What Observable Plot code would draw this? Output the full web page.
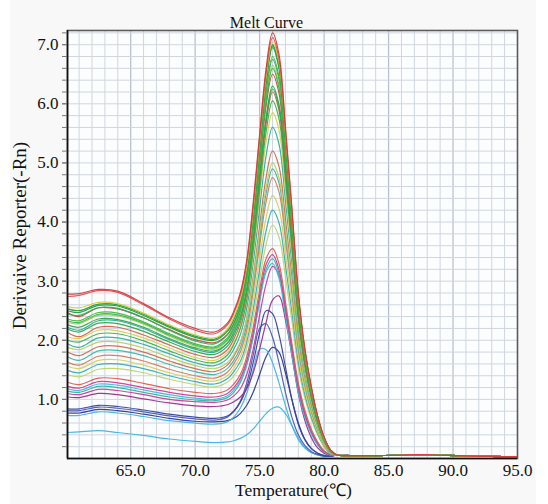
<!DOCTYPE html>
<html>
<head>
<meta charset="utf-8">
<script src="https://cdn.jsdelivr.net/npm/d3@7"></script>
<script src="https://cdn.jsdelivr.net/npm/@observablehq/plot@0.6"></script>
<style>
  html, body { margin: 0; padding: 0; background: #ffffff; }
  #chart svg { display: block; }
  #chart svg text, #chart svg g { font-family: 'Liberation Serif', 'Times New Roman', serif !important; font-variant-numeric: normal !important; }
</style>
</head>
<body>
<div id="chart"></div>
<script>
// Temperatures (°C) at which every curve was read
const temps = [60.1, 61, 62.5, 64, 66, 68, 70, 71.5, 72.5, 73, 73.5, 74, 74.5, 75, 75.5, 76, 76.5, 77, 77.5, 78, 78.5, 79, 79.5, 80, 80.5];
// Flat tail above 80.5 °C (all curves overlap there)
const tailTemps = [81, 82, 84, 86, 87.5, 89, 91, 93, 95];
const tailValues = [0.06, 0.05, 0.05, 0.055, 0.065, 0.055, 0.045, 0.035, 0.03];

// Derivative reporter values per curve
const curveValues = [
  [0.44, 0.45, 0.47, 0.44, 0.39, 0.33, 0.29, 0.27, 0.28, 0.30, 0.34, 0.40, 0.50, 0.63, 0.76, 0.85, 0.87, 0.76, 0.56, 0.35, 0.19, 0.10, 0.06, 0.04, 0.04],
  [0.77, 0.77, 0.83, 0.81, 0.75, 0.68, 0.63, 0.62, 0.64, 0.68, 0.76, 0.90, 1.12, 1.42, 1.72, 1.88, 1.80, 1.45, 1.00, 0.60, 0.33, 0.17, 0.09, 0.05, 0.04],
  [0.73, 0.73, 0.79, 0.77, 0.71, 0.64, 0.60, 0.58, 0.62, 0.70, 0.85, 1.10, 1.50, 1.85, 1.84, 1.62, 1.28, 0.90, 0.56, 0.32, 0.18, 0.10, 0.06, 0.04, 0.04],
  [0.81, 0.81, 0.87, 0.85, 0.79, 0.72, 0.67, 0.65, 0.70, 0.80, 0.97, 1.28, 1.75, 2.20, 2.28, 2.05, 1.62, 1.12, 0.70, 0.40, 0.22, 0.12, 0.07, 0.04, 0.04],
  [0.84, 0.84, 0.90, 0.88, 0.82, 0.75, 0.70, 0.68, 0.72, 0.80, 0.95, 1.20, 1.62, 2.12, 2.50, 2.45, 2.10, 1.55, 1.00, 0.58, 0.32, 0.17, 0.09, 0.05, 0.04],
  [1.04, 1.03, 1.10, 1.08, 1.01, 0.94, 0.89, 0.88, 0.91, 0.96, 1.04, 1.18, 1.45, 1.85, 2.30, 2.68, 2.75, 2.35, 1.75, 1.10, 0.65, 0.36, 0.18, 0.09, 0.05],
  [1.10, 1.08, 1.17, 1.15, 1.08, 1.00, 0.96, 0.95, 0.99, 1.06, 1.18, 1.42, 1.85, 2.42, 2.95, 3.25, 3.10, 2.55, 1.88, 1.22, 0.76, 0.45, 0.24, 0.11, 0.06],
  [1.14, 1.12, 1.22, 1.20, 1.12, 1.04, 0.99, 0.98, 1.03, 1.12, 1.28, 1.58, 2.06, 2.68, 3.20, 3.38, 3.13, 2.48, 1.80, 1.16, 0.73, 0.44, 0.24, 0.11, 0.06],
  [1.18, 1.15, 1.26, 1.24, 1.16, 1.08, 1.02, 1.00, 1.06, 1.16, 1.32, 1.60, 2.06, 2.65, 3.15, 3.30, 3.05, 2.42, 1.75, 1.12, 0.70, 0.42, 0.23, 0.11, 0.06],
  [1.22, 1.19, 1.30, 1.28, 1.20, 1.12, 1.06, 1.04, 1.10, 1.20, 1.36, 1.65, 2.13, 2.75, 3.28, 3.45, 3.20, 2.55, 1.85, 1.20, 0.76, 0.46, 0.26, 0.12, 0.06],
  [1.29, 1.25, 1.36, 1.35, 1.27, 1.18, 1.12, 1.10, 1.16, 1.26, 1.42, 1.72, 2.22, 2.85, 3.38, 3.55, 3.30, 2.65, 1.95, 1.28, 0.82, 0.50, 0.28, 0.13, 0.07],
  [1.42, 1.38, 1.51, 1.52, 1.45, 1.34, 1.25, 1.21, 1.29, 1.40, 1.57, 1.87, 2.39, 3.02, 3.62, 3.95, 3.75, 3.08, 2.33, 1.54, 1.03, 0.67, 0.40, 0.20, 0.08],
  [1.49, 1.45, 1.59, 1.60, 1.52, 1.40, 1.30, 1.26, 1.35, 1.47, 1.64, 1.97, 2.52, 3.20, 3.85, 4.20, 3.99, 3.28, 2.48, 1.64, 1.09, 0.71, 0.42, 0.21, 0.08],
  [1.56, 1.52, 1.66, 1.67, 1.58, 1.45, 1.35, 1.31, 1.40, 1.53, 1.72, 2.06, 2.66, 3.38, 4.07, 4.45, 4.23, 3.47, 2.63, 1.74, 1.16, 0.76, 0.45, 0.22, 0.09],
  [1.63, 1.58, 1.73, 1.74, 1.65, 1.51, 1.40, 1.36, 1.46, 1.60, 1.80, 2.17, 2.82, 3.60, 4.34, 4.75, 4.51, 3.71, 2.80, 1.85, 1.24, 0.81, 0.48, 0.24, 0.10],
  [1.72, 1.66, 1.82, 1.83, 1.74, 1.59, 1.47, 1.42, 1.52, 1.66, 1.87, 2.26, 2.92, 3.72, 4.48, 4.90, 4.66, 3.82, 2.89, 1.91, 1.27, 0.83, 0.49, 0.25, 0.10],
  [1.80, 1.74, 1.89, 1.90, 1.80, 1.65, 1.52, 1.47, 1.58, 1.73, 1.95, 2.37, 3.07, 3.93, 4.75, 5.20, 4.94, 4.06, 3.07, 2.03, 1.35, 0.88, 0.52, 0.26, 0.10],
  [1.88, 1.84, 1.97, 1.97, 1.87, 1.71, 1.57, 1.52, 1.62, 1.76, 1.97, 2.36, 3.02, 3.82, 4.58, 5.00, 4.75, 3.90, 2.95, 1.95, 1.30, 0.85, 0.50, 0.25, 0.10],
  [1.94, 1.88, 2.04, 2.04, 1.93, 1.77, 1.62, 1.57, 1.69, 1.85, 2.09, 2.54, 3.30, 4.23, 5.12, 5.60, 5.32, 4.37, 3.30, 2.18, 1.46, 0.95, 0.56, 0.28, 0.11],
  [2.06, 2.03, 2.17, 2.16, 2.04, 1.87, 1.71, 1.66, 1.79, 1.95, 2.20, 2.67, 3.46, 4.43, 5.35, 5.85, 5.56, 4.56, 3.45, 2.28, 1.52, 0.99, 0.59, 0.29, 0.12],
  [2.00, 1.97, 2.11, 2.11, 1.99, 1.82, 1.67, 1.62, 1.75, 1.93, 2.20, 2.68, 3.52, 4.54, 5.52, 6.05, 5.75, 4.72, 3.57, 2.36, 1.57, 1.03, 0.61, 0.30, 0.12],
  [2.13, 2.06, 2.22, 2.22, 2.09, 1.92, 1.76, 1.71, 1.84, 2.02, 2.29, 2.79, 3.64, 4.67, 5.66, 6.20, 5.89, 4.84, 3.66, 2.42, 1.61, 1.05, 0.62, 0.31, 0.12],
  [2.19, 2.14, 2.29, 2.28, 2.15, 1.97, 1.81, 1.76, 1.90, 2.08, 2.35, 2.85, 3.71, 4.76, 5.76, 6.30, 5.99, 4.91, 3.72, 2.46, 1.64, 1.07, 0.63, 0.32, 0.13],
  [2.26, 2.22, 2.36, 2.35, 2.22, 2.03, 1.87, 1.82, 1.95, 2.13, 2.40, 2.88, 3.72, 4.74, 5.72, 6.25, 5.94, 4.88, 3.69, 2.44, 1.63, 1.06, 0.63, 0.31, 0.13],
  [2.22, 2.17, 2.33, 2.33, 2.20, 2.01, 1.85, 1.80, 1.95, 2.15, 2.44, 2.99, 3.93, 5.07, 6.16, 6.75, 6.41, 5.27, 3.98, 2.63, 1.76, 1.15, 0.68, 0.34, 0.14],
  [2.30, 2.28, 2.42, 2.41, 2.27, 2.07, 1.90, 1.85, 1.99, 2.19, 2.47, 3.00, 3.91, 5.02, 6.07, 6.65, 6.32, 5.19, 3.92, 2.59, 1.73, 1.13, 0.67, 0.33, 0.13],
  [2.47, 2.40, 2.55, 2.53, 2.38, 2.18, 2.01, 1.96, 2.10, 2.28, 2.55, 3.05, 3.91, 4.96, 5.96, 6.50, 6.18, 5.07, 3.84, 2.54, 1.69, 1.11, 0.65, 0.33, 0.13],
  [2.33, 2.30, 2.44, 2.43, 2.29, 2.09, 1.92, 1.87, 2.01, 2.20, 2.48, 3.01, 3.90, 4.99, 6.03, 6.60, 6.27, 5.15, 3.89, 2.57, 1.72, 1.12, 0.66, 0.33, 0.13],
  [2.36, 2.33, 2.47, 2.46, 2.31, 2.11, 1.94, 1.89, 2.04, 2.23, 2.53, 3.07, 4.00, 5.13, 6.21, 6.80, 6.46, 5.30, 4.01, 2.65, 1.77, 1.16, 0.68, 0.34, 0.14],
  [2.44, 2.42, 2.55, 2.54, 2.38, 2.17, 1.99, 1.94, 2.09, 2.29, 2.59, 3.14, 4.09, 5.25, 6.35, 6.95, 6.60, 5.42, 4.10, 2.71, 1.81, 1.18, 0.70, 0.35, 0.14],
  [2.50, 2.47, 2.59, 2.58, 2.42, 2.22, 2.05, 2.00, 2.15, 2.35, 2.65, 3.20, 4.14, 5.29, 6.38, 6.98, 6.63, 5.44, 4.12, 2.72, 1.81, 1.19, 0.70, 0.35, 0.14],
  [2.53, 2.50, 2.61, 2.60, 2.44, 2.24, 2.07, 2.02, 2.17, 2.37, 2.67, 3.22, 4.16, 5.31, 6.40, 7.00, 6.65, 5.46, 4.13, 2.73, 1.82, 1.19, 0.70, 0.35, 0.14],
  [2.57, 2.55, 2.64, 2.62, 2.46, 2.26, 2.09, 2.04, 2.19, 2.39, 2.69, 3.24, 4.19, 5.35, 6.45, 7.05, 6.70, 5.50, 4.16, 2.75, 1.83, 1.20, 0.71, 0.35, 0.14],
  [2.74, 2.76, 2.84, 2.81, 2.60, 2.36, 2.17, 2.11, 2.26, 2.46, 2.76, 3.31, 4.26, 5.42, 6.52, 7.12, 6.76, 5.55, 4.20, 2.78, 1.85, 1.21, 0.71, 0.36, 0.14],
  [2.78, 2.79, 2.86, 2.83, 2.62, 2.38, 2.20, 2.14, 2.29, 2.49, 2.80, 3.35, 4.32, 5.48, 6.59, 7.20, 6.84, 5.62, 4.25, 2.81, 1.87, 1.22, 0.72, 0.36, 0.14]
];
const curveColors = [
  "#3fb6e4", "#2e3a92", "#45b4e2", "#4a5ab4", "#3a42a2", "#9a2e8e", "#cc3a9c", "#2fb6a0", "#3cbbe3", "#d23a98", "#d9604e",
  "#bfd470", "#30b0b2", "#d2d060", "#d87a58", "#38b8a8", "#d06c4e", "#b6d062", "#30b0a0", "#d8d050", "#3bb04a", "#d8604a", "#30a848", "#2ca850",
  "#30b088", "#a8cc50", "#d04a40", "#3cb44b", "#40b840", "#28b050", "#1fa03a", "#22a042", "#d8d040", "#e05050", "#d93a3a"
];

const xTicks = [65, 70, 75, 80, 85, 90, 95];
const yTicks = [1, 2, 3, 4, 5, 6, 7];

const data = [];
curveValues.forEach((vals, i) => {
  temps.forEach((t, j) => data.push({t, v: vals[j], id: i, c: curveColors[i]}));
  tailTemps.forEach((t, j) => data.push({t, v: tailValues[j], id: i, c: curveColors[i]}));
});

const gridX = d3.range(61, 95, 1);
const gridY = d3.range(1, 37).map(k => +(k * 0.2).toFixed(1));
const font = "'Liberation Serif', 'Times New Roman', serif";

const chart = Plot.plot({
  width: 548,
  height: 504,
  marginLeft: 67,
  marginRight: 31,
  marginTop: 30,
  marginBottom: 46,
  x: {domain: [60.1, 95], label: null},
  y: {domain: [0, 7.24], label: null},
  color: {type: "identity"},
  style: {fontFamily: font, fontSize: "17px", color: "#111",
          background: "linear-gradient(to right, #fff 10px, #f8f8f8 10px, #f8f8f8 536px, #fff 536px)"},
  marks: [
    Plot.frame({fill: "#fcfdfe", stroke: null}),
    Plot.ruleX(gridX.filter(d => d % 5 !== 0), {stroke: "#cfd6e0", strokeWidth: 1}),
    Plot.ruleX(gridX.filter(d => d % 5 === 0), {stroke: "#b9c3d0", strokeWidth: 1.3}),
    Plot.ruleY(gridY, {stroke: "#cfd6e0", strokeWidth: 1}),
    Plot.line(data, {x: "t", y: "v", z: "id", stroke: "c", curve: "catmull-rom", strokeWidth: 1.2, strokeOpacity: 0.95}),
    Plot.frame({stroke: "#5a5a5a", strokeWidth: 1.6}),
    Plot.ruleX([60.1], {stroke: "#111", strokeWidth: 1.6}),
    Plot.ruleY([0], {stroke: "#111", strokeWidth: 1.6}),
    Plot.axisY(gridY, {tickSize: 5, tickFormat: () => "", stroke: "#777", label: null}),
    Plot.axisY(yTicks, {tickSize: 5, tickPadding: 4, tickFormat: d => d.toFixed(1), stroke: "#777", label: null, fontSize: 17, fontFamily: font}),
    Plot.axisX(xTicks, {tickSize: 0, tickPadding: 5, tickFormat: d => d.toFixed(1), label: null, fontSize: 17, fontFamily: font}),
    Plot.text(["Melt Curve"], {frameAnchor: "top", dx: -26, dy: -14, fontSize: 16, fontFamily: font, fill: "#111"}),
    Plot.text(["Temperature(℃)"], {frameAnchor: "bottom", dx: 1, dy: 37, fontSize: 17.5, fontFamily: font, fill: "#111"}),
    Plot.text(["Derivaive Reporter(-Rn)"], {frameAnchor: "left", textAnchor: "middle", dx: -48, dy: -9, rotate: -90, fontSize: 19, fontFamily: font, fill: "#111"})
  ]
});
document.getElementById("chart").appendChild(chart);
</script>
</body>
</html>
